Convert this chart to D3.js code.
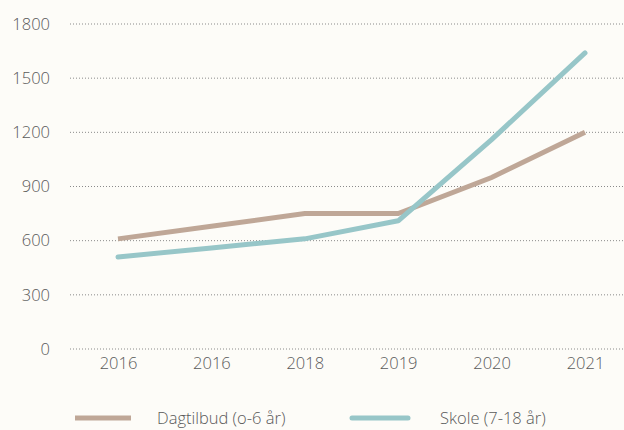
<!DOCTYPE html>
<html>
<head>
<meta charset="utf-8">
<script src="https://cdn.jsdelivr.net/npm/d3@7"></script>
<style>
body{margin:0;background:#fdfcf8;}
text{font-family:"Open Sans",Lato,sans-serif;font-weight:300;fill:#5a5a5a;}
</style>
</head>
<body>
<div class="Chart"></div>
<script>
const years=['2016','2016 ','2018','2019','2020','2021']
const yearLabels=['2016','2016','2018','2019','2020','2021']
const dagtilbud=[610,680,750,750,950,1200]
const skole=[510,560,610,710,1160,1640]
const yTicks=[0,300,600,900,1200,1500,1800]
const seriesNames=['Dagtilbud (o-6 år)','Skole (7-18 år)']
const colors=['#bfa797','#97c6c8']

const margin=({top:24,right:0,bottom:81,left:70})
const width=624-margin.left-margin.right,
	  height=430-margin.top-margin.bottom

let root=d3.select('.Chart').append('svg')
	.attr('width',624)
	.attr('height',430)
root.append('rect').attr('width',624).attr('height',430).attr('fill','#fdfcf8')

let svg=root.append('g')
	.attr('transform','translate('+margin.left+','+margin.top+')')

let xScale=d3.scalePoint()
	.domain(years)
	.range([48,width-39])

let yScale=d3.scaleLinear()
	.domain([0,1800])
	.range([height,0])

// gridlines
svg.selectAll('.grid')
	.data(yTicks)
	.enter()
	.append('line')
	.attr('class','grid')
	.attr('x1',0)
	.attr('x2',width)
	.attr('y1',d=>yScale(d))
	.attr('y2',d=>yScale(d))
	.attr('stroke','#8a8a8a')
	.attr('stroke-width',1)
	.attr('stroke-dasharray','1,2')

let yAxis=d3.axisLeft(yScale).tickValues(yTicks).tickSize(0).tickPadding(20)
	.tickFormat(d3.format('d'))
svg.append('g').call(yAxis)
	.call(g=>g.select('.domain').remove())
	.selectAll('text').style('font-size','16.5px')

let xAxis=d3.axisBottom(xScale).tickSize(0).tickPadding(8)
	.tickFormat((d,i)=>yearLabels[i])
svg.append('g').attr('transform',`translate(0,${height})`).call(xAxis)
	.call(g=>g.select('.domain').remove())
	.selectAll('text').style('font-size','16.5px')

const line=d3.line()
	.x((d,i)=>xScale(years[i]))
	.y(d=>yScale(d))

svg.append('path')
	.datum(dagtilbud)
	.attr('d',line)
	.attr('fill','none')
	.attr('stroke',colors[0])
	.attr('stroke-width',5)

svg.append('path')
	.datum(skole)
	.attr('d',line)
	.attr('fill','none')
	.attr('stroke',colors[1])
	.attr('stroke-width',5)
	.attr('stroke-linecap','round')
	.attr('stroke-linejoin','round')

// legend
const legendX=[75,352]
let legend=root.selectAll('.legend')
	.data(seriesNames)
	.enter()
	.append('g')
	.attr('class','legend')
	.attr('transform',(d,i)=>`translate(${legendX[i]},418)`)

legend.append('line')
	.attr('x1',0).attr('x2',56)
	.attr('stroke',(d,i)=>colors[i])
	.attr('stroke-width',5)
	.attr('stroke-linecap',(d,i)=>i==1?'round':'butt')

legend.append('text')
	.attr('x',(d,i)=>i==0?82:88)
	.attr('dy','0.35em')
	.style('font-size','16.5px')
	.text(d=>d)
</script>
</body>
</html>
